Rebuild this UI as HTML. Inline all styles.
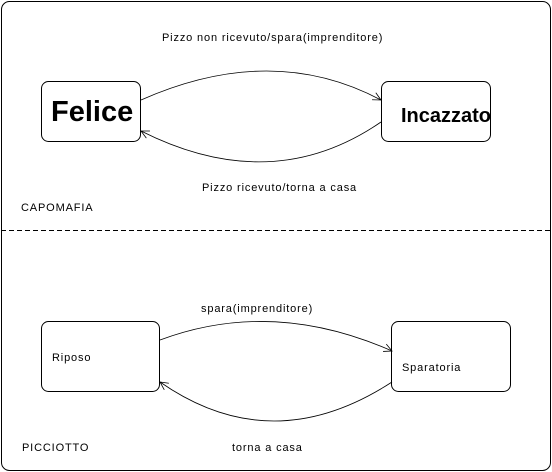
<!DOCTYPE html>
<html><head><style>
html,body{margin:0;padding:0;background:#fff;}
svg{display:block;}
text{font-family:"Liberation Sans",sans-serif;fill:#000;}
.s{font-size:11px;letter-spacing:0.85px;}
</style></head><body>
<svg width="552" height="472" viewBox="0 0 552 472" xmlns="http://www.w3.org/2000/svg">
<defs>
<marker id="a" markerWidth="10" markerHeight="10" refX="9" refY="5" orient="auto" markerUnits="userSpaceOnUse">
<path d="M1,1 L9,5 L1,9" fill="none" stroke="#000" stroke-width="0.8"/>
</marker>
</defs>
<rect x="1.5" y="1.5" width="549" height="469" rx="8" fill="none" stroke="#000" stroke-width="1"/>
<line x1="1" y1="230.5" x2="551" y2="230.5" stroke="#000" stroke-dasharray="5,3"/>

<rect x="41.5" y="81.5" width="99" height="60" rx="7" fill="none" stroke="#000"/>
<rect x="381.5" y="81.5" width="109" height="60" rx="7" fill="none" stroke="#000"/>
<text x="51" y="121" font-size="29" font-weight="bold">Felice</text>
<text x="401" y="122" font-size="20" font-weight="bold">Incazzato</text>
<path d="M141,100 Q272,42 381,100" fill="none" stroke="#000" stroke-width="0.8" marker-end="url(#a)"/>
<path d="M381,122 Q272,197 141,131" fill="none" stroke="#000" stroke-width="0.8" marker-end="url(#a)"/>
<text class="s" x="162" y="41">Pizzo non ricevuto/spara(imprenditore)</text>
<text class="s" x="202" y="191">Pizzo ricevuto/torna a casa</text>
<text class="s" x="21" y="211">CAPOMAFIA</text>

<rect x="41.5" y="321.5" width="118" height="70" rx="7" fill="none" stroke="#000"/>
<rect x="391.5" y="321.5" width="119" height="70" rx="7" fill="none" stroke="#000"/>
<text class="s" x="52" y="361">Riposo</text>
<text class="s" x="402" y="371">Sparatoria</text>
<path d="M160,340 Q272,298 392,351" fill="none" stroke="#000" stroke-width="0.8" marker-end="url(#a)"/>
<path d="M392,382 Q272,460 160,382" fill="none" stroke="#000" stroke-width="0.8" marker-end="url(#a)"/>
<text class="s" x="201" y="312">spara(imprenditore)</text>
<text class="s" x="22" y="451">PICCIOTTO</text>
<text class="s" x="232" y="451">torna a casa</text>
</svg>
</body></html>
